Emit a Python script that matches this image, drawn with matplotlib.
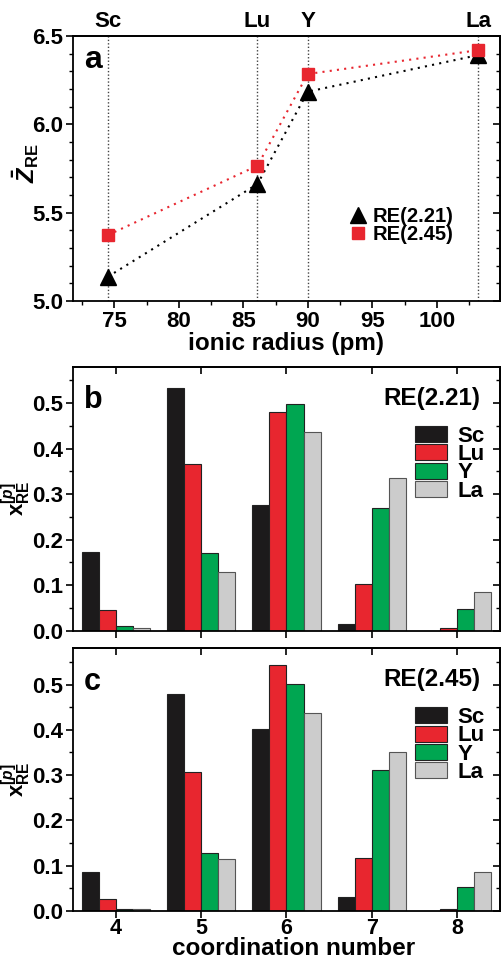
import numpy as np
import matplotlib
matplotlib.use("Agg")
import matplotlib.pyplot as plt
from matplotlib.ticker import MultipleLocator, FormatStrFormatter
from matplotlib.patches import Patch
from matplotlib.lines import Line2D

plt.rcParams['font.family'] = ['Liberation Sans', 'DejaVu Sans']
plt.rcParams['font.weight'] = 'bold'
plt.rcParams['mathtext.fontset'] = 'custom'
plt.rcParams['mathtext.rm'] = 'Liberation Sans:bold'
plt.rcParams['mathtext.bf'] = 'Liberation Sans:bold'
plt.rcParams['mathtext.it'] = 'Liberation Sans:italic:bold'
plt.rcParams['axes.linewidth'] = 1.3

# panel a: mean coordination vs ionic radius
elements = ['Sc', 'Lu', 'Y', 'La']
radius = [74.5, 86.1, 90.0, 103.2]
z_221 = [5.137, 5.662, 6.185, 6.392]
z_245 = [5.373, 5.766, 6.285, 6.420]

# panels b, c: fraction of RE with coordination number p
cn = [4, 5, 6, 7, 8]
frac_221 = {
    'Sc': [0.172, 0.534, 0.276, 0.015, 0.0],
    'Lu': [0.045, 0.367, 0.480, 0.102, 0.005],
    'Y':  [0.010, 0.170, 0.499, 0.269, 0.047],
    'La': [0.007, 0.128, 0.436, 0.336, 0.085],
}
frac_245 = {
    'Sc': [0.087, 0.480, 0.401, 0.031, 0.0],
    'Lu': [0.026, 0.307, 0.544, 0.117, 0.005],
    'Y':  [0.004, 0.127, 0.501, 0.312, 0.052],
    'La': [0.004, 0.114, 0.438, 0.350, 0.087],
}
bar_colors = {'Sc': '#1c1a1b', 'Lu': '#e8262f', 'Y': '#00a651', 'La': '#cccccc'}
red = '#e8262f'
TICK = 16

fig = plt.figure(figsize=(5.02, 9.61), dpi=100)
L, R = 0.1454, 0.996
ax_a = fig.add_axes([L, 0.6868, R - L, 0.9625 - 0.6868])
ax_b = fig.add_axes([L, 0.3437, R - L, 0.6184 - 0.3437])
ax_c = fig.add_axes([L, 0.0520, R - L, 0.3254 - 0.0520])


def style_ticks(ax):
    ax.tick_params(axis='both', which='both', labelsize=TICK, pad=2)
    ax.tick_params(axis='x', which='both', bottom=True, top=False, direction='out')
    ax.tick_params(axis='y', which='both', left=True, direction='out')
    ax.tick_params(which='major', length=5, width=1.2)
    ax.tick_params(which='minor', length=3, width=1.0)
    for lab in ax.get_xticklabels() + ax.get_yticklabels():
        lab.set_fontweight('bold')


# ---- panel a ----
for r in radius:
    ax_a.axvline(r, color='#444444', ls=(0, (1, 1.5)), lw=1.0, zorder=1)
ax_a.plot(radius, z_221, ls=(0, (1, 2.5)), color='black', lw=1.5,
          marker='^', ms=11, mfc='black', mec='black', zorder=3)
ax_a.plot(radius, z_245, ls=(0, (1, 2.5)), color=red, lw=1.5,
          marker='s', ms=9, mfc=red, mec=red, zorder=4)
ax_a.set_xlim(71.8, 104.9)
ax_a.set_ylim(5.0, 6.5)
ax_a.xaxis.set_major_locator(MultipleLocator(5))
ax_a.xaxis.set_minor_locator(MultipleLocator(2.5))
ax_a.yaxis.set_major_locator(MultipleLocator(0.5))
ax_a.yaxis.set_minor_locator(MultipleLocator(0.1))
style_ticks(ax_a)
ax_a.set_xlabel('ionic radius (pm)', fontsize=17.5, fontweight='bold', labelpad=0)
ax_a.set_ylabel(r'$\bar{Z}_{\rm RE}$', fontsize=17)
ax_a.yaxis.set_label_coords(-0.075, 0.52)
ax_a.text(0.025, 0.965, 'a', transform=ax_a.transAxes, fontsize=23,
          fontweight='bold', va='top', ha='left')
ax_a_r = ax_a.secondary_yaxis('right')
ax_a_r.yaxis.set_major_locator(MultipleLocator(0.5))
ax_a_r.yaxis.set_minor_locator(MultipleLocator(0.1))
ax_a_r.tick_params(which='both', direction='in', labelright=False)
ax_a_r.tick_params(which='major', length=5, width=1.2)
ax_a_r.tick_params(which='minor', length=3, width=1.0)
top = ax_a.secondary_xaxis('top')
top.set_xticks(radius)
top.set_xticklabels(elements)
top.tick_params(length=0, labelsize=16, pad=3)
for lab in top.get_xticklabels():
    lab.set_fontweight('bold')
handles = [Line2D([], [], ls='none', marker='^', ms=11, color='black'),
           Line2D([], [], ls='none', marker='s', ms=9, color=red)]
ax_a.legend(handles, ['RE(2.21)', 'RE(2.45)'], loc='upper left',
            bbox_to_anchor=(0.625, 0.385), frameon=False,
            handletextpad=0.25, labelspacing=-0.05, handlelength=1.0,
            borderaxespad=0, prop={'weight': 'bold', 'size': 14.5})


# ---- panels b and c ----
def bar_panel(ax, data, title, letter):
    width = 0.2
    offsets = [-0.3, -0.1, 0.1, 0.3]
    x = np.array(cn)
    for el, off in zip(elements, offsets):
        ec = '#555555' if el == 'La' else '#222222'
        ax.bar(x + off, data[el], width=width, color=bar_colors[el],
               edgecolor=ec, linewidth=0.8, zorder=2)
    ax.set_xlim(3.5, 8.5)
    ax.set_ylim(0, 0.58)
    ax.set_xticks(cn)
    ax.yaxis.set_major_locator(MultipleLocator(0.1))
    ax.yaxis.set_minor_locator(MultipleLocator(0.05))
    ax.yaxis.set_major_formatter(FormatStrFormatter('%.1f'))
    style_ticks(ax)
    ax.set_ylabel(r'$\mathbf{x}_{\rm RE}^{[p]}$', fontsize=16)
    ax.yaxis.set_label_coords(-0.094, 0.5)
    ax.text(0.025, 0.93, letter, transform=ax.transAxes, fontsize=22,
            fontweight='bold', va='top', ha='left')
    ax.text(0.955, 0.925, title, transform=ax.transAxes, fontsize=17.5,
            fontweight='bold', va='top', ha='right')
    r = ax.secondary_yaxis('right')
    r.yaxis.set_major_locator(MultipleLocator(0.1))
    r.yaxis.set_minor_locator(MultipleLocator(0.05))
    r.tick_params(which='both', direction='in', labelright=False)
    r.tick_params(which='major', length=5, width=1.2)
    r.tick_params(which='minor', length=3, width=1.0)
    t = ax.secondary_xaxis('top')
    t.set_xticks(cn)
    t.tick_params(direction='in', length=5, width=1.2, labeltop=False)
    patches = [Patch(facecolor=bar_colors[el],
                     edgecolor='#555555' if el == 'La' else '#222222',
                     linewidth=0.8) for el in elements]
    ax.legend(patches, elements, loc='upper right', bbox_to_anchor=(0.985, 0.81),
              frameon=False, handlelength=1.45, handleheight=0.72,
              handletextpad=0.45, labelspacing=-0.12, borderaxespad=0,
              prop={'weight': 'bold', 'size': 16})


bar_panel(ax_b, frac_221, 'RE(2.21)', 'b')
bar_panel(ax_c, frac_245, 'RE(2.45)', 'c')
ax_b.tick_params(axis='x', labelbottom=False)
ax_c.tick_params(axis='x', pad=0, labelsize=15.5)
fig.text(0.585, 0.006, 'coordination number', fontsize=17.5, fontweight='bold',
         ha='center', va='baseline')

fig.savefig('out.png', dpi=100)
